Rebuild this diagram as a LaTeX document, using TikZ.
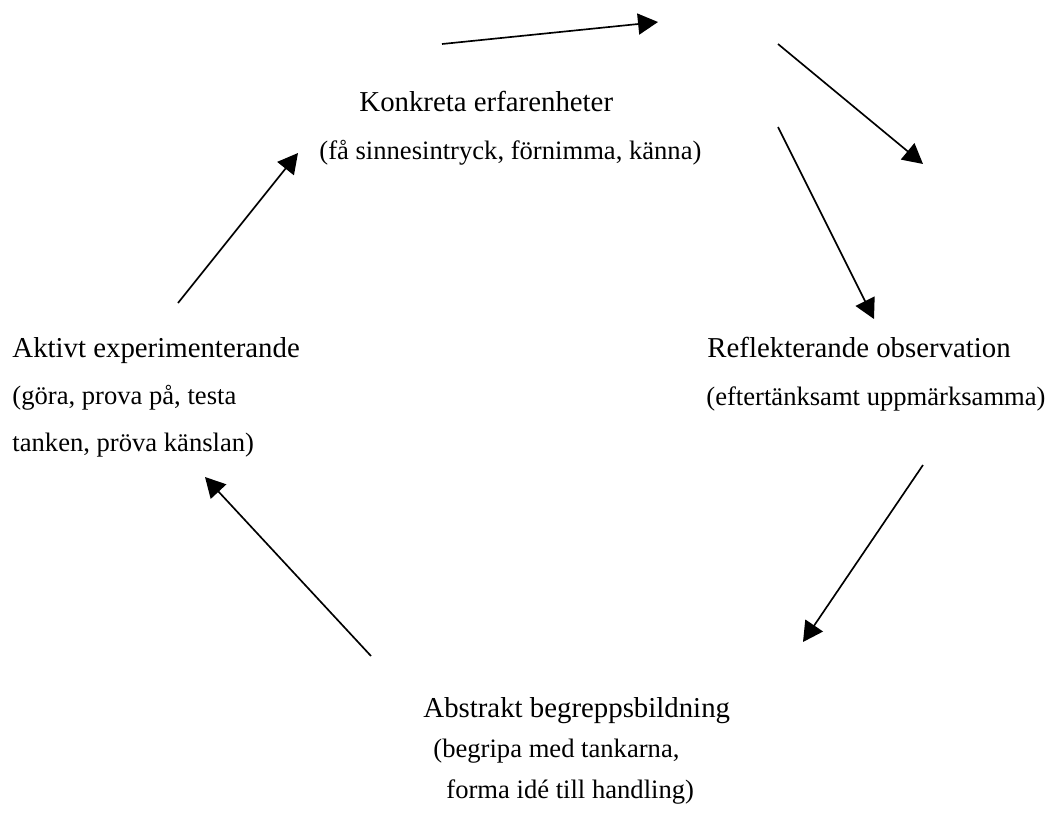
\documentclass[tikz,border=0pt]{standalone}
\usepackage{fontspec}
\setmainfont{Liberation Serif}
\usetikzlibrary{arrows.meta}

\begin{document}
\begin{tikzpicture}[x=0.451pt, y=-0.451pt,
  rubrik/.style={anchor=base west, inner sep=0, font=\fontsize{13}{15}\selectfont},
  under/.style={anchor=base west, inner sep=0, font=\fontsize{12}{14}\selectfont},
  pil/.style={-{Triangle[length=9pt,width=9.5pt]}, line width=0.75pt}]
\useasboundingbox (0,0) rectangle (1049,814);

\node (konkret) at (359,111) [rubrik] {Konkreta erfarenheter};
\node (konkretsub) at (319,159) [under] {(få sinnesintryck, förnimma, känna)};

\node (reflekt) at (707,357) [rubrik] {Reflekterande observation};
\node (reflektsub) at (706,405) [under] {(eftertänksamt uppmärksamma)};

\node (abstrakt) at (423,717) [rubrik] {Abstrakt begreppsbildning};
\node (abstraktsub) at (433,757) [under] {(begripa med tankarna,};
\node (abstraktsubb) at (446,798) [under] {forma idé till handling)};

\node (aktivt) at (12,357) [rubrik] {Aktivt experimenterande};
\node (aktivtsub) at (12,404) [under] {(göra, prova på, testa};
\node (aktivtsubb) at (12,451) [under] {tanken, pröva känslan)};

\coordinate (p1) at (442,44);
\coordinate (q1) at (658,22);
\coordinate (p2) at (778,44);
\coordinate (q2) at (923,164);
\coordinate (p3) at (778,127);
\coordinate (q3) at (874,319);
\coordinate (p4) at (923,465);
\coordinate (q4) at (803,642);
\coordinate (p5) at (371,656);
\coordinate (q5) at (205,477);
\coordinate (p6) at (178,303);
\coordinate (q6) at (298,153);

\draw[pil] (p1) -- (q1);
\draw[pil] (p2) -- (q2);
\draw[pil] (p3) -- (q3);
\draw[pil] (p4) -- (q4);
\draw[pil] (p5) -- (q5);
\draw[pil] (p6) -- (q6);
\end{tikzpicture}
\end{document}
